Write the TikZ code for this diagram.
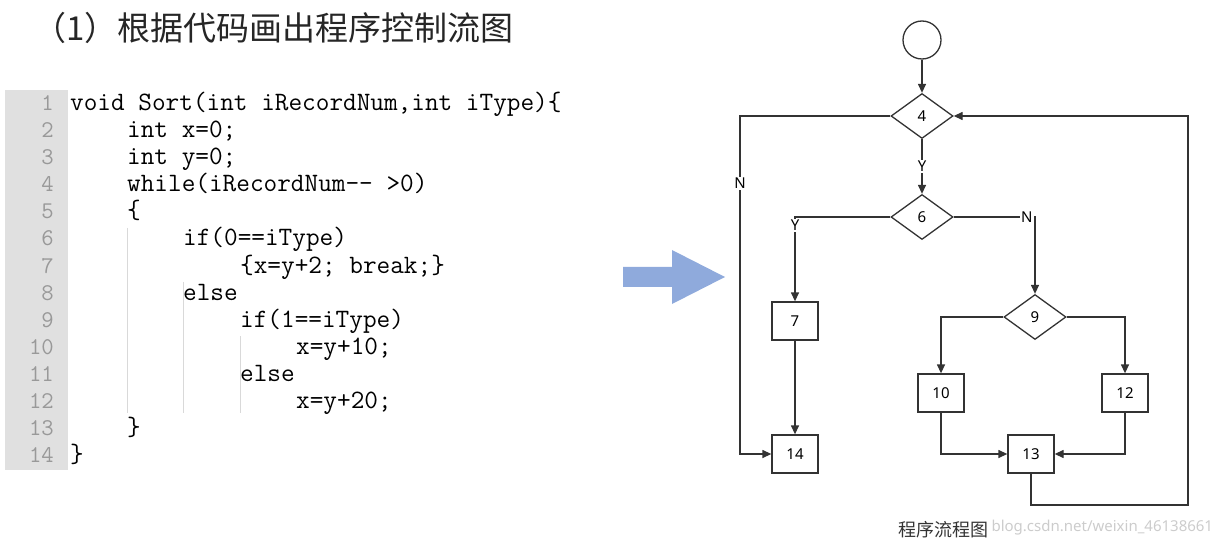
\documentclass[tikz,border=0pt]{standalone}
\usepackage{fontspec}
\setmainfont{Noto Sans}
\newfontfamily\cjk{Noto Sans CJK SC}
\usetikzlibrary{shapes.geometric,arrows.meta,positioning}
\definecolor{arrowblue}{RGB}{143,170,220}

\tikzset{
  flow/.style={draw=black!80, line width=1.3pt, -{Triangle[length=9pt,width=8pt]}},
  dec/.style={diamond, draw=black!80, line width=1.3pt, minimum width=62pt, minimum height=45pt, aspect=1.4, inner sep=0pt, font=\fontsize{15}{15}\selectfont},
  stmt/.style={rectangle, draw=black!80, line width=1.3pt, minimum width=46pt, minimum height=38pt, inner sep=0pt, font=\fontsize{15}{15}\selectfont},
  lbl/.style={fill=white, inner sep=1pt, font=\fontsize{15}{15}\selectfont},
  code/.style={anchor=base west, font=\fontsize{26.5}{26}\ttfamily, inner sep=0pt},
  lineno/.style={anchor=base east, font=\fontsize{24}{24}\ttfamily, text=black!40, inner sep=0pt},
}

\begin{document}
\begin{tikzpicture}[x=1pt,y=-1pt]
	\useasboundingbox (0,0) rectangle (1216,548);
	\node[anchor=west, font=\fontsize{33}{33}\cjk, text=black!85] (title) at (30,28) {（1）根据代码画出程序控制流图};
	% code listing
	\fill[black!12] (5,90) rectangle (68,470);
	\foreach \n in {1,...,14}
		\node[lineno] (ln\n) at (54,{103+27*(\n-1)+8}) {\n};
	\draw[black!15] (127,228) -- (127,413) (183,282) -- (183,413) (240,336) -- (240,413);
	\node[code] (c1) at (70,111) {void Sort(int iRecordNum,int iType)\{};
	\node[code] (c2) at (127,138) {int x=0;};
	\node[code] (c3) at (127,165) {int y=0;};
	\node[code] (c4) at (127,192) {while(iRecordNum-- >0)};
	\node[code] (c5) at (127,219) {\{};
	\node[code] (c6) at (183,246) {if(0==iType)};
	\node[code] (c7) at (240,273) {\{x=y+2; break;\}};
	\node[code] (c8) at (183,300) {else};
	\node[code] (c9) at (240,327) {if(1==iType)};
	\node[code] (c10) at (296,354) {x=y+10;};
	\node[code] (c11) at (240,381) {else};
	\node[code] (c12) at (296,408) {x=y+20;};
	\node[code] (c13) at (127,435) {\}};
	\node[code] (c14) at (70,462) {\}};
	% big arrow
	\fill[arrowblue]
		(623,267) -- (672,267) -- (672,250) -- (725,277) -- (672,304) -- (672,287) -- (623,287) -- cycle;
	% flow graph
	\node[circle, draw=black!80, line width=1.3pt, minimum size=38pt] (s) at (922,40) {};
	\node[dec] (n4) at (922,116) {4};
	\node[dec] (n6) at (922,217) {6};
	\node[dec] (n9) at (1035,317) {9};
	\node[stmt] (n7) at (795,321) {7};
	\node[stmt] (n14) at (795,454) {14};
	\node[stmt] (n10) at (941,393) {10};
	\node[stmt] (n12) at (1125,393) {12};
	\node[stmt] (n13) at (1031,454) {13};
	\draw[flow] (s) -- (n4);
	\draw[flow] (n4) -- node[lbl] {Y} (n6);
	\draw[flow] (n6.west) -| node[lbl, pos=0.55] {Y} (n7);
	\draw[flow] (n6.east) -| node[lbl, pos=0.45] {N} (n9);
	\draw[flow] (n7) -- (n14);
	\draw[flow] (n4.west) -| (740,454) node[lbl, pos=0.6] {N} -- (n14.west);
	\draw[flow] (n9.west) -| (n10);
	\draw[flow] (n9.east) -| (n12);
	\draw[flow] (n10.south) |- (n13.west);
	\draw[flow] (n12.south) |- (n13.east);
	\draw[flow] (n13.south) -- (1031,505) -- (1188,505) |- (n4.east);
	\node[font=\fontsize{18}{18}\cjk, text=black!80] (cap) at (943,530) {程序流程图};
	\node[anchor=west, font=\fontsize{15}{15}\selectfont, text=black!20] (wm) at (988,528) {blog.csdn.net/weixin\_46138661};
\end{tikzpicture}
\end{document}
